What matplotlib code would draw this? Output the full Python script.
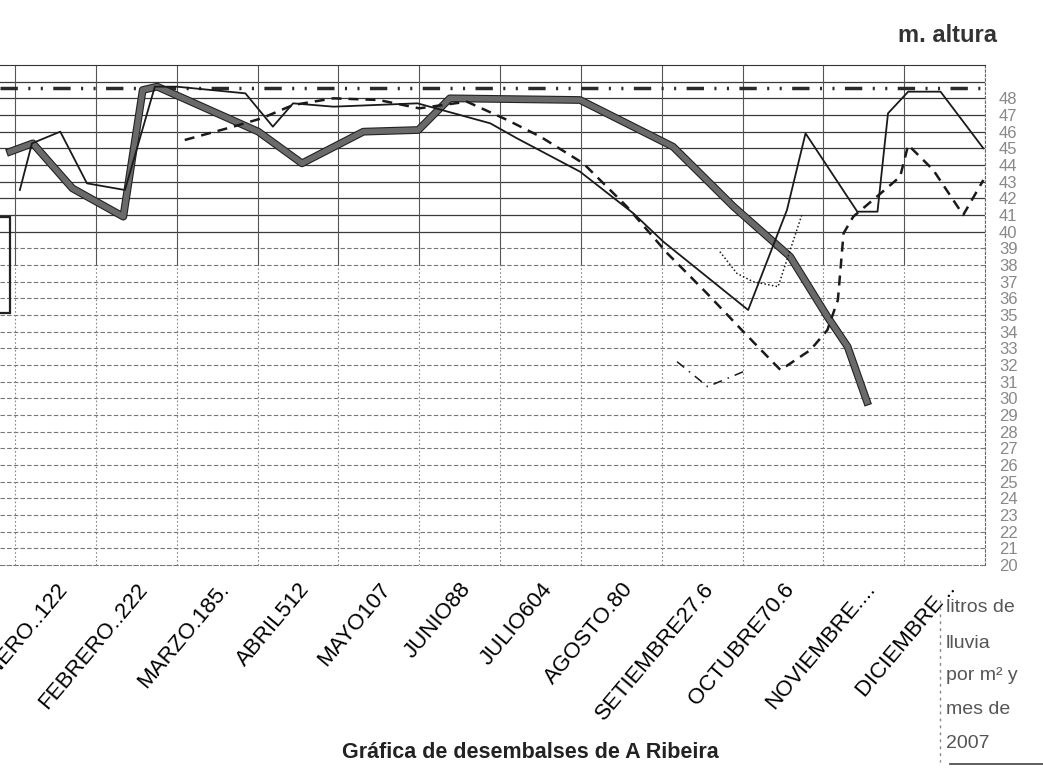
import matplotlib
matplotlib.use("Agg")
import matplotlib.pyplot as plt
import matplotlib.patheffects as pe
from matplotlib.patches import Rectangle

plt.rcParams['font.family'] = ['Liberation Sans', 'DejaVu Sans']

# month labels (typed text + handwritten rain figures)
months = ['ENERO..122', 'FEBRERO..222', 'MARZO.185.', 'ABRIL512', 'MAYO107',
          'JUNIO88', 'JULIO604', 'AGOSTO.80', 'SETIEMBRE27.6', 'OCTUBRE70.6',
          'NOVIEMBRE....', 'DICIEMBRE ..']

# x in months from start of January, y in m. altura
capacity = 48.6

thick_x = [-0.06, 0.22, 0.71, 1.34, 1.58, 1.76, 3.01, 3.55, 4.31, 4.99, 5.38,
           6.99, 7.73, 8.14, 8.89, 9.59, 10.05, 10.30, 10.54]
thick_y = [44.8, 45.3, 42.6, 40.9, 48.5, 48.7, 46.0, 44.1, 46.0, 46.1, 48.0,
           47.9, 46.1, 45.1, 41.5, 38.5, 34.9, 33.1, 29.8]

thin_x = [0.06, 0.21, 0.56, 0.89, 1.36, 1.73, 2.0, 2.85, 3.19, 3.44, 3.94, 4.98,
          5.88, 6.21, 6.99, 7.65, 8.02, 9.07, 9.55, 9.78, 10.42, 10.67, 10.80,
          11.05, 11.45, 11.98]
thin_y = [42.5, 45.3, 46.0, 42.9, 42.5, 48.7, 48.7, 48.3, 46.3, 47.7, 47.5, 47.7,
          46.5, 45.6, 43.6, 41.1, 39.4, 35.3, 41.3, 45.9, 41.2, 41.2, 47.1,
          48.4, 48.4, 45.0]

dashed_x = [2.10, 2.70, 3.05, 3.44, 3.94, 4.5, 5.0, 5.59, 6.09, 6.50, 7.03, 7.57,
            8.07, 8.56, 9.03, 9.47, 9.84, 10.05, 10.18, 10.25, 10.37, 10.71,
            10.95, 11.05, 11.36, 11.73, 11.98]
dashed_y = [45.5, 46.3, 46.8, 47.6, 48.0, 47.9, 47.4, 47.8, 46.7, 45.7, 44.1, 41.5,
            38.7, 36.3, 33.9, 31.7, 32.9, 34.1, 35.9, 39.9, 40.9, 42.3,
            43.3, 45.2, 43.7, 41.0, 43.1]

dashdot_x = [8.19, 8.57, 9.01]
dashdot_y = [32.2, 30.7, 31.6]

dotted_x = [8.72, 8.93, 9.13, 9.44, 9.74]
dotted_y = [38.8, 37.5, 37.0, 36.7, 41.1]

W, H = 1043, 772
fig = plt.figure(figsize=(W / 100, H / 100), dpi=100)
ax = fig.add_axes([0, 1 - 565 / H, 985 / W, 500 / H])
ax.set_xlim(-15 / 80.83, 12)
ax.set_ylim(20, 50)

# grid
for v in range(21, 50):
    if v >= 40:
        ax.axhline(v, color='#3a3a3a', lw=0.9, zorder=1)
    else:
        ax.axhline(v, color='#777777', lw=0.8, ls=(0, (4, 2)), zorder=1)
for k in range(0, 13):
    ax.plot([k, k], [38, 50], color='#555555', lw=0.8, zorder=1)
    ax.plot([k, k], [20, 38], color='#888888', lw=0.8, ls=(0, (1.5, 2)), zorder=1)

ax.spines['left'].set_visible(False)
ax.spines['top'].set_color('#333333')
ax.spines['right'].set_color('#666666')
ax.spines['right'].set_linestyle((0, (2, 2)))
ax.spines['bottom'].set_color('#777777')
ax.spines['bottom'].set_linestyle((0, (4, 2)))

# series
ax.plot([-15 / 80.83, 12], [capacity, capacity], color='#2a2a2a', lw=2.5,
        ls=(0, (5, 3, 0.6, 3, 0.6, 3)), zorder=3)
ax.plot(thick_x, thick_y, color='#6a6a6a', lw=4.0, zorder=4, solid_joinstyle='round',
        path_effects=[pe.Stroke(linewidth=5.6, foreground='#222222'), pe.Normal()])
ax.plot(thin_x, thin_y, color='#1a1a1a', lw=1.3, zorder=5)
ax.plot(dashed_x, dashed_y, color='#1a1a1a', lw=1.8, ls=(0, (4, 2.8)), zorder=5)
ax.plot(dashdot_x, dashdot_y, color='#1a1a1a', lw=1.1, ls=(0, (6, 4, 1, 4)), zorder=5)
ax.plot(dotted_x, dotted_y, color='#1a1a1a', lw=1.1, ls=(0, (1, 1.5)), zorder=5)

# axes ticks
ax.set_xticks([i + 0.5 for i in range(12)])
ax.set_xticklabels(months, rotation=50, ha='right', va='top',
                   rotation_mode='anchor', fontsize=16)
ax.tick_params(axis='x', length=0, pad=10)
ax.yaxis.tick_right()
ax.set_yticks(range(20, 49))
ax.set_yticklabels([str(v) for v in range(20, 49)], fontsize=12, color='#888888')
ax.tick_params(axis='y', length=0, pad=10)

# texts
fig.text(997 / W, 1 - 36 / H, 'm. altura', ha='right', va='center',
         fontsize=17, fontweight='bold', color='#333333')
fig.text(530 / W, 1 - 752 / H, 'Gráfica de desembalses de A Ribeira', ha='center',
         va='center', fontsize=15.5, fontweight='bold', color='#222222')
legend_lines = ['litros de', 'lluvia', 'por m² y', 'mes de', '2007']
legend_y = [608, 643, 676, 710, 743]
for txt, yy in zip(legend_lines, legend_y):
    fig.text(946 / W, 1 - yy / H, txt, ha='left', va='center', fontsize=14,
             color='#555555')
fig.add_artist(plt.Line2D([940 / W, 940 / W], [1 - 600 / H, 1 - 762 / H],
                          color='#888888', lw=1, ls=(0, (2, 3))))
fig.add_artist(plt.Line2D([950 / W, 1], [1 - 764 / H, 1 - 764 / H],
                          color='#444444', lw=1.2))
# partial legend box at the left edge
fig.add_artist(Rectangle((-0.01, 1 - 313 / H), 0.0196, 96 / H, fill=False,
                         lw=1.6, edgecolor='#222222', transform=fig.transFigure))

fig.savefig('out.png', dpi=100)
